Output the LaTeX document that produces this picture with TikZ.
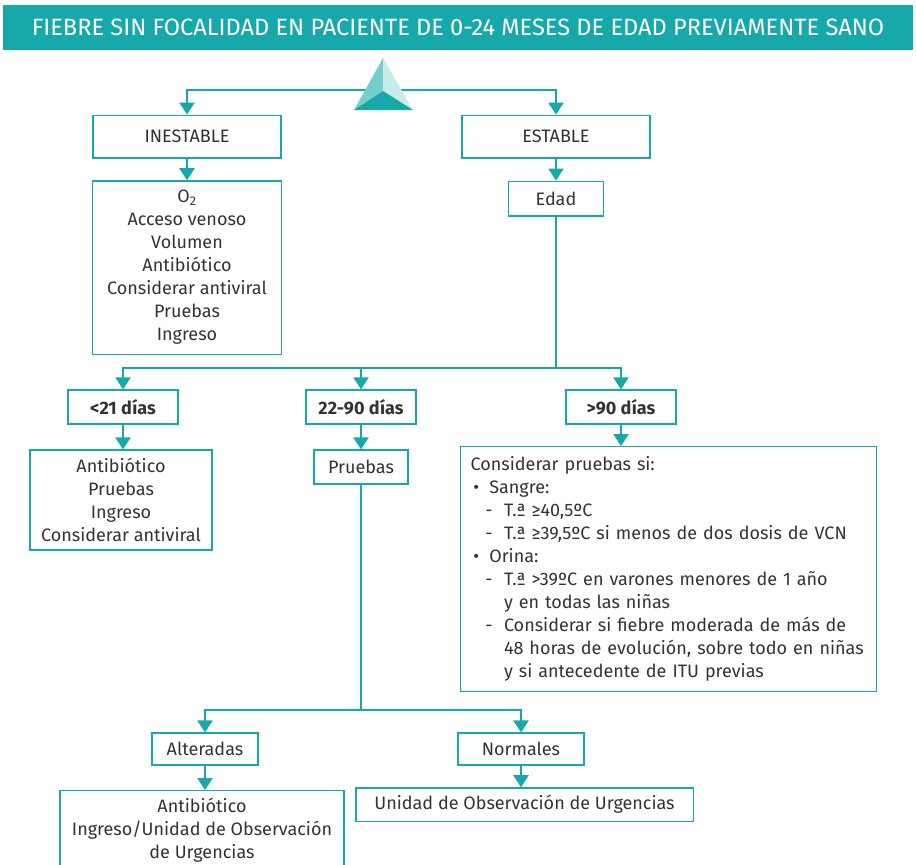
\documentclass[tikz,border=0pt]{standalone}
\usepackage{fontspec}
\setmainfont{Fira Sans}
\usetikzlibrary{arrows.meta}

\definecolor{verde}{HTML}{17A9A9}
\definecolor{verdeclaro}{HTML}{74CFCB}
\definecolor{verdepalido}{HTML}{C8EBEA}

\newcommand{\guion}{\hspace*{11pt}\makebox[14pt][l]{-}}
\newcommand{\punto}{\hspace*{2pt}\makebox[12pt][l]{\textbullet}}
\newcommand{\sangria}{\hspace*{25pt}}

\tikzset{
  caja/.style={draw=verde, line width=1pt, fill=white, text=black!80, align=center,
    inner sep=0pt, font=\fontsize{13.5}{17.25}\selectfont},
  flecha/.style={draw=verde, line width=1pt, -{Triangle[width=11.5pt,length=9pt]}},
  linea/.style={draw=verde, line width=1pt},
}

\begin{document}
\begin{tikzpicture}[x=0.75pt,y=-0.75pt]

	%Page size of the reference (pixels)
	\useasboundingbox (0,0) rectangle (916,864);

	%Title bar
	\node[fill=verde, text=white, minimum width=682.5pt, minimum height=33.75pt,
		font=\fontsize{17.7}{20}\selectfont] (titulo) at (458,27.5)
		{FIEBRE SIN FOCALIDAD EN PACIENTE DE 0-24 MESES DE EDAD PREVIAMENTE SANO};

	%First level
	\node[caja, minimum width=141pt, minimum height=32pt] (inest) at (187,136.5) {INESTABLE};
	\node[caja, minimum width=141pt, minimum height=32pt] (est) at (556,136.5) {ESTABLE};

	\node[caja, minimum width=142pt, minimum height=130pt] (inbox) at (187,267.5)
		{O\textsubscript{2}\\Acceso venoso\\Volumen\\Antibiótico\\Considerar antiviral\\Pruebas\\Ingreso};
	\node[caja, minimum width=71pt, minimum height=26pt] (edad) at (556,198.5) {Edad};

	%Age groups
	\node[caja, minimum width=82.5pt, minimum height=25.5pt, font=\fontsize{13.5}{17.25}\selectfont\bfseries] (lt21) at (123,407) {<21 días};
	\node[caja, minimum width=82.5pt, minimum height=25.5pt, font=\fontsize{13.5}{17.25}\selectfont\bfseries] (d2290) at (361,407) {22-90 días};
	\node[caja, minimum width=82.5pt, minimum height=25.5pt, font=\fontsize{13.5}{17.25}\selectfont\bfseries] (gt90) at (621,407) {>90 días};

	\node[caja, minimum width=136.5pt, minimum height=75pt] (abx21) at (121,500)
		{Antibiótico\\Pruebas\\Ingreso\\Considerar antiviral};
	\node[caja, minimum width=70.5pt, minimum height=25.5pt] (pruebas) at (361,467) {Pruebas};
	\node[caja, anchor=north west, text width=297pt, align=left, inner sep=7.5pt,
		minimum height=181pt] (consid) at (460,446)
		{Considerar pruebas si:\\
		 \punto Sangre:\\
		 \guion T.ª ≥40,5ºC\\
		 \guion T.ª ≥39,5ºC si menos de dos dosis de VCN\\
		 \punto Orina:\\
		 \guion T.ª >39ºC en varones menores de 1 año\\
		 \sangria y en todas las niñas\\
		 \guion Considerar si fiebre moderada de más de\\
		 \sangria 48 horas de evolución, sobre todo en niñas\\
		 \sangria y si antecedente de ITU previas};

	%Results of the tests
	\node[caja, minimum width=79.5pt, minimum height=24pt] (alt) at (205,749) {Alteradas};
	\node[caja, minimum width=94.5pt, minimum height=24pt] (norm) at (521,749) {Normales};
	\node[caja, anchor=north, minimum width=213pt, minimum height=60pt] (altbox) at (202,790)
		{Antibiótico\\Ingreso/Unidad de Observación\\de Urgencias};
	\node[caja, minimum width=253pt, minimum height=25pt] (normbox) at (524.5,804.5)
		{Unidad de Observación de Urgencias};

	%Connectors
	\coordinate (tri) at (383,90);
	\draw[flecha] (tri) -| (inest);
	\draw[flecha] (tri) -| (est);
	\draw[flecha] (inest.south) -- (inest.south |- inbox.north);
	\draw[flecha] (est.south) -- (est.south |- edad.north);

	\coordinate (ramaA) at (edad.south |- 0,368);
	\draw[linea] (edad.south) -- (ramaA);
	\draw[flecha] (ramaA) -| (lt21);
	\draw[flecha] (ramaA) -| (gt90);
	\draw[flecha] (ramaA -| d2290) -- (d2290);

	\draw[flecha] (lt21.south) -- (lt21.south |- abx21.north);
	\draw[flecha] (d2290.south) -- (d2290.south |- pruebas.north);
	\draw[flecha] (gt90.south) -- (gt90.south |- consid.north);

	\coordinate (ramaB) at (pruebas.south |- 0,710);
	\draw[linea] (pruebas.south) -- (ramaB);
	\draw[flecha] (ramaB) -| (alt);
	\draw[flecha] (ramaB) -| (norm);
	\draw[flecha] (alt.south) -- (alt.south |- altbox.north);
	\draw[flecha] (norm.south) -- (norm.south |- normbox.north);

	%Pyramid logo on top of the first split
	\fill[verdeclaro] (383,58) -- (383,91) -- (354,110) -- cycle;
	\fill[verdepalido] (383,58) -- (383,91) -- (413,110) -- cycle;
	\fill[verde] (354,110) -- (383,91) -- (413,110) -- cycle;

\end{tikzpicture}
\end{document}
